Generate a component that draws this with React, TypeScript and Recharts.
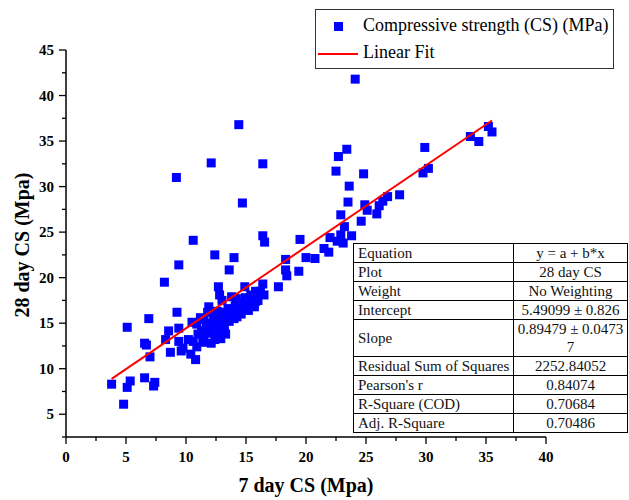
import { ScatterChart, Scatter, XAxis, YAxis } from 'recharts'

// 7 day vs 28 day compressive strength (MPa)
const day7 = [
  3.8, 4.8, 5.1, 5.35, 5.1, 6.55, 7.4, 7.3, 7.0, 6.55, 6.7, 6.9, 8.3, 8.55, 8.7, 8.2,
  9.25, 9.4, 9.4, 9.6, 9.75, 9.4, 9.2,
  10.2, 10.4, 10.5, 10.6, 10.8, 10.9, 11.5, 11.9, 12.1, 12.4,
  11.0, 11.3, 11.5, 11.7, 11.9, 12.0, 12.2, 12.3, 12.5, 12.5, 12.7, 12.8, 13.0, 13.1, 13.2,
  13.4, 13.5, 13.6, 13.8, 14.0, 14.1, 14.3, 14.5, 14.6, 14.8, 15.0, 15.2, 15.5, 15.7, 16.0,
  11.2, 11.4, 12.1, 12.4, 12.9, 13.3, 10.9, 10.6, 11.8, 12.6, 14.2, 12.4, 13.0,
  12.7, 12.8, 13.6, 13.8, 14.0, 14.4, 14.7, 14.9, 14.25, 15.1, 15.8, 15.9, 14.95, 15.4, 15.8,
  16.2, 16.4, 16.5, 16.4, 16.4, 16.55, 17.7, 18.3, 18.3, 18.4, 19.4, 19.5, 20.0, 20.75,
  21.5, 21.9, 22.0, 22.6, 22.9, 23.1, 23.8, 23.2, 22.9, 24.6, 25.9, 25.1, 24.9, 26.1, 26.4,
  26.8, 27.8, 23.5, 23.6, 22.5, 24.8, 22.7, 23.4, 24.1, 29.9, 30.2, 29.75, 33.7, 34.4, 35.2, 35.5,
]
const day28 = [
  8.3, 6.1, 7.95, 8.65, 14.55, 9.0, 8.5, 8.1, 11.3, 12.8, 12.6, 15.5, 13.2, 14.15, 11.8, 19.5,
  16.2, 14.45, 13.0, 11.95, 12.25, 21.4, 31.0,
  13.2, 11.6, 15.1, 24.1, 11.0, 12.4, 15.4, 16.8, 32.6, 22.5,
  13.8, 14.2, 13.5, 14.6, 15.0, 13.9, 14.4, 15.3, 13.4, 14.8, 15.6, 14.1, 15.0, 16.2, 14.6,
  15.8, 16.6, 15.2, 16.0, 15.5, 16.9, 16.2, 17.2, 16.0, 16.6, 17.0, 16.4, 17.3, 16.8, 17.5,
  15.6, 12.9, 12.8, 13.2, 13.3, 13.8, 14.9, 13.0, 16.2, 16.3, 17.7, 15.8, 17.5,
  19.0, 18.1, 20.85, 17.9, 22.2, 36.8, 28.2, 19.0, 15.7, 17.2, 18.5, 17.55, 17.8, 18.1, 17.4,
  18.5, 19.3, 18.1, 32.5, 24.6, 23.9, 19.0, 22.0, 20.85, 20.2, 20.7, 24.2, 22.2, 22.1,
  23.2, 22.8, 24.4, 24.0, 24.7, 23.8, 24.6, 25.6, 26.9, 26.2, 27.0, 27.4, 28.0, 27.9, 28.4,
  28.9, 29.1, 28.3, 30.05, 31.7, 31.4, 33.3, 34.1, 41.8, 34.3, 32.0, 31.5, 35.5, 34.95, 36.6, 36.0,
]

const intercept = 5.49099
const slope = 0.89479

const xTicks = [0, 2.5, 5, 7.5, 10, 12.5, 15, 17.5, 20, 22.5, 25, 27.5, 30, 32.5, 35, 37.5, 40]
const yTicks = [2.5, 5, 7.5, 10, 12.5, 15, 17.5, 20, 22.5, 25, 27.5, 30, 32.5, 35, 37.5, 40, 42.5, 45]

const fitRows: [string, string[]][] = [
  ['Equation', ['y = a + b*x']],
  ['Plot', ['28 day CS']],
  ['Weight', ['No Weighting']],
  ['Intercept', ['5.49099 ± 0.826']],
  ['Slope', ['0.89479 ± 0.0473', '7']],
  ['Residual Sum of Squares', ['2252.84052']],
  ["Pearson's r", ['0.84074']],
  ['R-Square (COD)', ['0.70684']],
  ['Adj. R-Square', ['0.70486']],
]

const points = day7.map((x, i) => ({ x, y: day28[i] }))
const xMin = Math.min(...day7)
const xMax = Math.max(...day7)
const fitLine = [xMin, xMax].map((x) => ({ x, y: intercept + slope * x }))

const serif = '"Liberation Serif", "Times New Roman", serif'

const Square = (props: any) => (
  <rect x={props.cx - 4.5} y={props.cy - 4.5} width={9} height={9} fill="#0000ff" />
)

const XTick = ({ x, y, payload }: any) => {
  const major = payload.value % 5 === 0
  return (
    <g>
      <line x1={x} x2={x} y1={y} y2={y + (major ? 7 : 4)} stroke="#000" strokeWidth={1.3} />
      {major && (
        <text x={x} y={y + 25} textAnchor="middle" fontFamily={serif} fontWeight="bold" fontSize={15} fill="#000">
          {payload.value}
        </text>
      )}
    </g>
  )
}

const YTick = ({ x, y, payload }: any) => {
  const major = payload.value % 5 === 0
  return (
    <g>
      <line x1={x} x2={x - (major ? 7 : 4)} y1={y} y2={y} stroke="#000" strokeWidth={1.3} />
      {major && (
        <text x={x - 12} y={y + 5} textAnchor="end" fontFamily={serif} fontWeight="bold" fontSize={15} fill="#000">
          {payload.value}
        </text>
      )}
    </g>
  )
}

const cellBase = { background: '#fff', whiteSpace: 'nowrap' as const, lineHeight: '18px', overflow: 'hidden' }

export default function App() {
  return (
    <div style={{ position: 'absolute', left: 0, top: 0, width: 629, height: 500, background: '#fff', fontFamily: serif }}>
      <ScatterChart width={629} height={500} margin={{ top: 50, right: 83, bottom: 0, left: 0 }}>
        <XAxis
          type="number"
          dataKey="x"
          domain={[0, 40]}
          ticks={xTicks}
          interval={0}
          height={63}
          tickSize={0}
          tickMargin={0}
          tick={<XTick />}
          axisLine={{ stroke: '#000', strokeWidth: 1.5 }}
        />
        <YAxis
          type="number"
          dataKey="y"
          domain={[2.5, 45]}
          ticks={yTicks}
          interval={0}
          width={66}
          tickSize={0}
          tickMargin={0}
          tick={<YTick />}
          axisLine={{ stroke: '#000', strokeWidth: 1.5 }}
        />
        <Scatter data={points} shape={Square} isAnimationActive={false} />
        <Scatter
          data={fitLine}
          line={{ stroke: '#ff0000', strokeWidth: 2 }}
          shape={() => <g />}
          isAnimationActive={false}
        />
      </ScatterChart>

      {/* axis titles */}
      <div style={{ position: 'absolute', left: 206, top: 474, width: 200, textAlign: 'center', fontSize: 20, fontWeight: 'bold' }}>
        7 day CS (Mpa)
      </div>
      <div
        style={{
          position: 'absolute', left: 22, top: 245, width: 200, textAlign: 'center', fontSize: 20, fontWeight: 'bold',
          transform: 'translate(-50%, -50%) rotate(-90deg)', lineHeight: '24px',
        }}
      >
        28 day CS (Mpa)
      </div>

      {/* legend */}
      <div style={{ position: 'absolute', left: 315, top: 9, width: 297, height: 58, border: '1px solid #333', background: '#fff', fontSize: 18 }}>
        <div style={{ position: 'absolute', left: 18, top: 12, width: 9, height: 9, background: '#0000ff' }} />
        <div style={{ position: 'absolute', left: 47, top: 5, whiteSpace: 'nowrap', lineHeight: '20px' }}>
          Compressive strength (CS) (MPa)
        </div>
        <div style={{ position: 'absolute', left: 2, top: 43, width: 40, height: 2, background: '#ff0000' }} />
        <div style={{ position: 'absolute', left: 47, top: 32, whiteSpace: 'nowrap', lineHeight: '20px' }}>Linear Fit</div>
      </div>

      {/* fit statistics */}
      <div
        style={{
          position: 'absolute', left: 353, top: 243, display: 'grid', gridTemplateColumns: '159px 113px',
          gap: 1, padding: 1, background: '#000', fontSize: 15, color: '#111',
        }}
      >
        {fitRows.map(([name, value]) => [
          <div
            key={name + '-k'}
            style={{ ...cellBase, paddingLeft: 4, height: value.length * 18, display: 'flex', alignItems: 'center' }}
          >
            {name}
          </div>,
          <div key={name + '-v'} style={{ ...cellBase, textAlign: 'center', height: value.length * 18 }}>
            {value.map((v) => (
              <div key={v}>{v}</div>
            ))}
          </div>,
        ])}
      </div>
    </div>
  )
}
